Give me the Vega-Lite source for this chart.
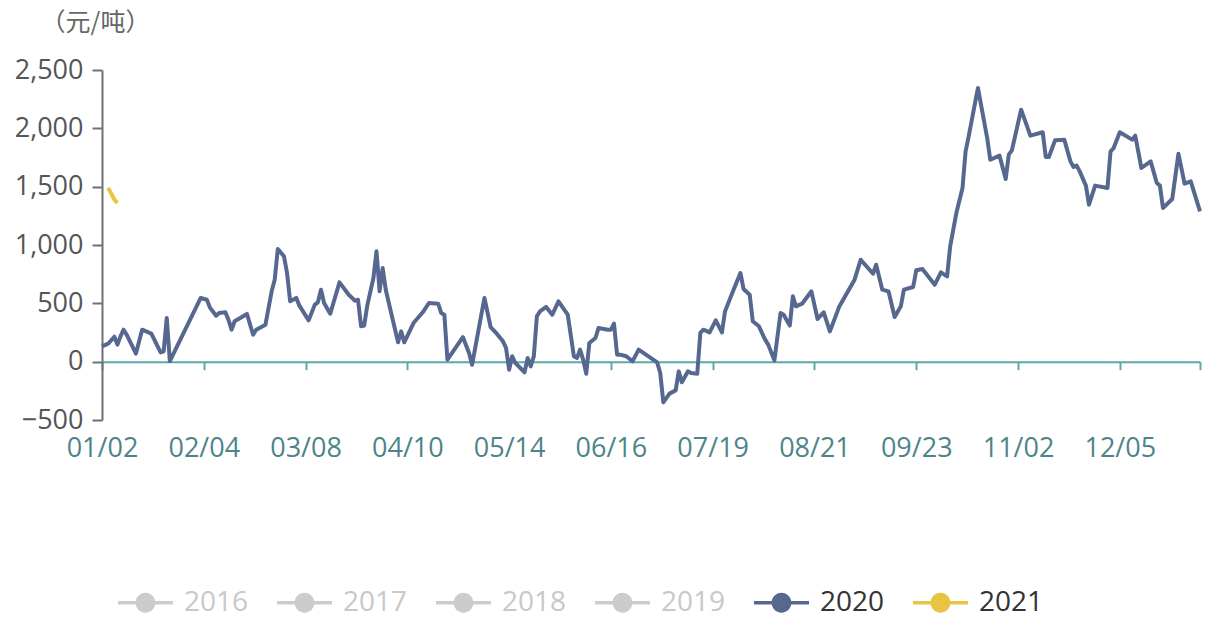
{
  "$schema": "https://vega.github.io/schema/vega-lite/v6.json",
  "width": 1098,
  "height": 350,
  "autosize": "none",
  "padding": {"left": 102, "top": 70, "right": 6, "bottom": 197},
  "background": "white",
  "config": {"view": {"stroke": null}, "font": "Open Sans"},
  "data": {"values": [
    {"date": "01/02", "year": "2020", "value": 131},
    {"date": "01/04", "year": "2020", "value": 154},
    {"date": "01/06", "year": "2020", "value": 214},
    {"date": "01/07", "year": "2020", "value": 146},
    {"date": "01/08", "year": "2020", "value": 217},
    {"date": "01/09", "year": "2020", "value": 274},
    {"date": "01/10", "year": "2020", "value": 231},
    {"date": "01/13", "year": "2020", "value": 69},
    {"date": "01/15", "year": "2020", "value": 274},
    {"date": "01/18", "year": "2020", "value": 240},
    {"date": "01/21", "year": "2020", "value": 80},
    {"date": "01/22", "year": "2020", "value": 89},
    {"date": "01/23", "year": "2020", "value": 374},
    {"date": "01/24", "year": "2020", "value": 5},
    {"date": "02/03", "year": "2020", "value": 546},
    {"date": "02/05", "year": "2020", "value": 531},
    {"date": "02/06", "year": "2020", "value": 463},
    {"date": "02/08", "year": "2020", "value": 394},
    {"date": "02/09", "year": "2020", "value": 417},
    {"date": "02/11", "year": "2020", "value": 423},
    {"date": "02/12", "year": "2020", "value": 360},
    {"date": "02/13", "year": "2020", "value": 274},
    {"date": "02/14", "year": "2020", "value": 346},
    {"date": "02/18", "year": "2020", "value": 409},
    {"date": "02/20", "year": "2020", "value": 231},
    {"date": "02/21", "year": "2020", "value": 274},
    {"date": "02/24", "year": "2020", "value": 317},
    {"date": "02/26", "year": "2020", "value": 603},
    {"date": "02/27", "year": "2020", "value": 703},
    {"date": "02/28", "year": "2020", "value": 966},
    {"date": "03/01", "year": "2020", "value": 903},
    {"date": "03/02", "year": "2020", "value": 760},
    {"date": "03/03", "year": "2020", "value": 517},
    {"date": "03/05", "year": "2020", "value": 546},
    {"date": "03/06", "year": "2020", "value": 480},
    {"date": "03/09", "year": "2020", "value": 354},
    {"date": "03/11", "year": "2020", "value": 489},
    {"date": "03/12", "year": "2020", "value": 509},
    {"date": "03/13", "year": "2020", "value": 617},
    {"date": "03/14", "year": "2020", "value": 503},
    {"date": "03/16", "year": "2020", "value": 411},
    {"date": "03/19", "year": "2020", "value": 680},
    {"date": "03/22", "year": "2020", "value": 574},
    {"date": "03/24", "year": "2020", "value": 523},
    {"date": "03/25", "year": "2020", "value": 531},
    {"date": "03/26", "year": "2020", "value": 303},
    {"date": "03/27", "year": "2020", "value": 309},
    {"date": "03/28", "year": "2020", "value": 480},
    {"date": "03/30", "year": "2020", "value": 717},
    {"date": "03/31", "year": "2020", "value": 946},
    {"date": "04/01", "year": "2020", "value": 603},
    {"date": "04/02", "year": "2020", "value": 803},
    {"date": "04/03", "year": "2020", "value": 617},
    {"date": "04/05", "year": "2020", "value": 389},
    {"date": "04/07", "year": "2020", "value": 166},
    {"date": "04/08", "year": "2020", "value": 260},
    {"date": "04/09", "year": "2020", "value": 166},
    {"date": "04/12", "year": "2020", "value": 331},
    {"date": "04/15", "year": "2020", "value": 423},
    {"date": "04/17", "year": "2020", "value": 503},
    {"date": "04/20", "year": "2020", "value": 497},
    {"date": "04/21", "year": "2020", "value": 417},
    {"date": "04/22", "year": "2020", "value": 403},
    {"date": "04/23", "year": "2020", "value": 17},
    {"date": "04/28", "year": "2020", "value": 211},
    {"date": "04/30", "year": "2020", "value": 74},
    {"date": "05/02", "year": "2020", "value": -26},
    {"date": "05/06", "year": "2020", "value": 546},
    {"date": "05/08", "year": "2020", "value": 297},
    {"date": "05/10", "year": "2020", "value": 240},
    {"date": "05/12", "year": "2020", "value": 174},
    {"date": "05/13", "year": "2020", "value": 117},
    {"date": "05/14", "year": "2020", "value": -69},
    {"date": "05/15", "year": "2020", "value": 46},
    {"date": "05/16", "year": "2020", "value": -11},
    {"date": "05/19", "year": "2020", "value": -91},
    {"date": "05/20", "year": "2020", "value": 31},
    {"date": "05/21", "year": "2020", "value": -40},
    {"date": "05/22", "year": "2020", "value": 46},
    {"date": "05/23", "year": "2020", "value": 389},
    {"date": "05/24", "year": "2020", "value": 431},
    {"date": "05/26", "year": "2020", "value": 469},
    {"date": "05/28", "year": "2020", "value": 403},
    {"date": "05/30", "year": "2020", "value": 517},
    {"date": "06/02", "year": "2020", "value": 403},
    {"date": "06/04", "year": "2020", "value": 46},
    {"date": "06/05", "year": "2020", "value": 31},
    {"date": "06/06", "year": "2020", "value": 103},
    {"date": "06/07", "year": "2020", "value": 17},
    {"date": "06/08", "year": "2020", "value": -103},
    {"date": "06/09", "year": "2020", "value": 160},
    {"date": "06/11", "year": "2020", "value": 203},
    {"date": "06/12", "year": "2020", "value": 289},
    {"date": "06/15", "year": "2020", "value": 274},
    {"date": "06/16", "year": "2020", "value": 274},
    {"date": "06/17", "year": "2020", "value": 326},
    {"date": "06/18", "year": "2020", "value": 60},
    {"date": "06/19", "year": "2020", "value": 60},
    {"date": "06/21", "year": "2020", "value": 46},
    {"date": "06/23", "year": "2020", "value": 3},
    {"date": "06/25", "year": "2020", "value": 103},
    {"date": "06/29", "year": "2020", "value": 31},
    {"date": "07/01", "year": "2020", "value": -6},
    {"date": "07/02", "year": "2020", "value": -97},
    {"date": "07/03", "year": "2020", "value": -349},
    {"date": "07/05", "year": "2020", "value": -274},
    {"date": "07/07", "year": "2020", "value": -246},
    {"date": "07/08", "year": "2020", "value": -83},
    {"date": "07/09", "year": "2020", "value": -177},
    {"date": "07/11", "year": "2020", "value": -83},
    {"date": "07/12", "year": "2020", "value": -97},
    {"date": "07/14", "year": "2020", "value": -103},
    {"date": "07/15", "year": "2020", "value": 246},
    {"date": "07/16", "year": "2020", "value": 274},
    {"date": "07/18", "year": "2020", "value": 251},
    {"date": "07/20", "year": "2020", "value": 354},
    {"date": "07/22", "year": "2020", "value": 251},
    {"date": "07/23", "year": "2020", "value": 431},
    {"date": "07/26", "year": "2020", "value": 631},
    {"date": "07/28", "year": "2020", "value": 760},
    {"date": "07/29", "year": "2020", "value": 623},
    {"date": "07/31", "year": "2020", "value": 574},
    {"date": "08/01", "year": "2020", "value": 346},
    {"date": "08/03", "year": "2020", "value": 303},
    {"date": "08/05", "year": "2020", "value": 189},
    {"date": "08/06", "year": "2020", "value": 146},
    {"date": "08/08", "year": "2020", "value": 11},
    {"date": "08/10", "year": "2020", "value": 417},
    {"date": "08/11", "year": "2020", "value": 403},
    {"date": "08/13", "year": "2020", "value": 309},
    {"date": "08/14", "year": "2020", "value": 560},
    {"date": "08/15", "year": "2020", "value": 474},
    {"date": "08/17", "year": "2020", "value": 497},
    {"date": "08/20", "year": "2020", "value": 603},
    {"date": "08/22", "year": "2020", "value": 366},
    {"date": "08/24", "year": "2020", "value": 423},
    {"date": "08/26", "year": "2020", "value": 260},
    {"date": "08/29", "year": "2020", "value": 470},
    {"date": "09/03", "year": "2020", "value": 703},
    {"date": "09/05", "year": "2020", "value": 874},
    {"date": "09/09", "year": "2020", "value": 754},
    {"date": "09/10", "year": "2020", "value": 831},
    {"date": "09/12", "year": "2020", "value": 617},
    {"date": "09/14", "year": "2020", "value": 603},
    {"date": "09/16", "year": "2020", "value": 383},
    {"date": "09/18", "year": "2020", "value": 474},
    {"date": "09/19", "year": "2020", "value": 617},
    {"date": "09/22", "year": "2020", "value": 640},
    {"date": "09/23", "year": "2020", "value": 783},
    {"date": "09/25", "year": "2020", "value": 794},
    {"date": "09/29", "year": "2020", "value": 660},
    {"date": "10/08", "year": "2020", "value": 766},
    {"date": "10/10", "year": "2020", "value": 731},
    {"date": "10/11", "year": "2020", "value": 988},
    {"date": "10/13", "year": "2020", "value": 1274},
    {"date": "10/15", "year": "2020", "value": 1489},
    {"date": "10/16", "year": "2020", "value": 1803},
    {"date": "10/17", "year": "2020", "value": 1931},
    {"date": "10/20", "year": "2020", "value": 2346},
    {"date": "10/22", "year": "2020", "value": 2060},
    {"date": "10/23", "year": "2020", "value": 1917},
    {"date": "10/24", "year": "2020", "value": 1731},
    {"date": "10/27", "year": "2020", "value": 1766},
    {"date": "10/29", "year": "2020", "value": 1566},
    {"date": "10/30", "year": "2020", "value": 1774},
    {"date": "10/31", "year": "2020", "value": 1811},
    {"date": "11/03", "year": "2020", "value": 2160},
    {"date": "11/06", "year": "2020", "value": 1937},
    {"date": "11/10", "year": "2020", "value": 1966},
    {"date": "11/11", "year": "2020", "value": 1754},
    {"date": "11/12", "year": "2020", "value": 1754},
    {"date": "11/14", "year": "2020", "value": 1897},
    {"date": "11/17", "year": "2020", "value": 1903},
    {"date": "11/19", "year": "2020", "value": 1717},
    {"date": "11/20", "year": "2020", "value": 1669},
    {"date": "11/21", "year": "2020", "value": 1680},
    {"date": "11/22", "year": "2020", "value": 1631},
    {"date": "11/24", "year": "2020", "value": 1509},
    {"date": "11/25", "year": "2020", "value": 1346},
    {"date": "11/27", "year": "2020", "value": 1509},
    {"date": "12/01", "year": "2020", "value": 1489},
    {"date": "12/02", "year": "2020", "value": 1803},
    {"date": "12/03", "year": "2020", "value": 1831},
    {"date": "12/05", "year": "2020", "value": 1966},
    {"date": "12/09", "year": "2020", "value": 1903},
    {"date": "12/10", "year": "2020", "value": 1937},
    {"date": "12/12", "year": "2020", "value": 1660},
    {"date": "12/15", "year": "2020", "value": 1717},
    {"date": "12/17", "year": "2020", "value": 1531},
    {"date": "12/18", "year": "2020", "value": 1509},
    {"date": "12/19", "year": "2020", "value": 1317},
    {"date": "12/22", "year": "2020", "value": 1394},
    {"date": "12/24", "year": "2020", "value": 1783},
    {"date": "12/26", "year": "2020", "value": 1526},
    {"date": "12/28", "year": "2020", "value": 1546},
    {"date": "12/31", "year": "2020", "value": 1288},
    {"date": "01/04", "year": "2021", "value": 1490},
    {"date": "01/05", "year": "2021", "value": 1440},
    {"date": "01/06", "year": "2021", "value": 1390},
    {"date": "01/07", "year": "2021", "value": 1360}
  ]},
  "encoding": {
    "y": {
      "field": "value",
      "type": "quantitative",
      "scale": {"domain": [-500, 2500], "nice": false, "zero": false},
      "axis": {
        "title": "（元/吨）",
        "titleAngle": 0,
        "titleAlign": "center",
        "titleBaseline": "middle",
        "titleX": -7,
        "titleY": -48,
        "titleFont": "Noto Sans CJK SC",
        "titleFontSize": 25,
        "titleFontWeight": "normal",
        "titleColor": "#666666",
        "values": [-500, 0, 500, 1000, 1500, 2000, 2500],
        "format": ",.0f",
        "labelFont": "Open Sans",
        "labelFontSize": 27,
        "labelColor": "#555555",
        "labelPadding": 9,
        "domainColor": "#6e7079",
        "domainWidth": 2,
        "tickColor": "#6e7079",
        "tickWidth": 2,
        "tickSize": 10,
        "grid": false
      }
    },
    "color": {
      "field": "year",
      "type": "nominal",
      "scale": {
        "domain": ["2016", "2017", "2018", "2019", "2020", "2021"],
        "range": ["#cccccc", "#cccccc", "#cccccc", "#cccccc", "#56688f", "#e8c440"]
      },
      "legend": {
        "orient": "none",
        "legendX": 16,
        "legendY": 505,
        "direction": "horizontal",
        "columns": 6,
        "title": null,
        "padding": 0,
        "symbolType": "M-1,-0.06H1V0.06H-1Z M0.36,0A0.36,0.36,0,1,1,-0.36,0A0.36,0.36,0,1,1,0.36,0Z",
        "symbolSize": 3025,
        "symbolStrokeWidth": 0,
        "labelFont": "Open Sans",
        "labelFontSize": 28,
        "labelOffset": 11,
        "labelLimit": 200,
        "columnPadding": 28,
        "encode": {
          "symbols": {"update": {"fill": {"scale": "color", "field": "value"}, "stroke": {"value": "transparent"}}},
          "labels": {"update": {"fill": {"signal": "datum.value >= '2020' ? '#333333' : '#c8c8c8'"}}}
        }
      }
    }
  },
  "layer": [
    {
      "transform": [{"filter": "datum.year == '2020'"}],
      "mark": {"type": "line", "strokeWidth": 4, "strokeJoin": "round"},
      "encoding": {
        "x": {
          "field": "date",
          "type": "ordinal",
          "scale": {"type": "point", "padding": 0, "domain": ["01/02","01/03","01/04","01/05","01/06","01/07","01/08","01/09","01/10","01/11","01/12","01/13","01/14","01/15","01/16","01/17","01/18","01/19","01/20","01/21","01/22","01/23","01/24","01/25","01/26","01/27","01/28","01/29","01/30","01/31","02/01","02/02","02/03","02/04","02/05","02/06","02/07","02/08","02/09","02/10","02/11","02/12","02/13","02/14","02/15","02/16","02/17","02/18","02/19","02/20","02/21","02/22","02/23","02/24","02/25","02/26","02/27","02/28","02/29","03/01","03/02","03/03","03/04","03/05","03/06","03/07","03/08","03/09","03/10","03/11","03/12","03/13","03/14","03/15","03/16","03/17","03/18","03/19","03/20","03/21","03/22","03/23","03/24","03/25","03/26","03/27","03/28","03/29","03/30","03/31","04/01","04/02","04/03","04/04","04/05","04/06","04/07","04/08","04/09","04/10","04/11","04/12","04/13","04/14","04/15","04/16","04/17","04/18","04/19","04/20","04/21","04/22","04/23","04/24","04/25","04/26","04/27","04/28","04/29","04/30","05/02","05/03","05/04","05/05","05/06","05/07","05/08","05/09","05/10","05/11","05/12","05/13","05/14","05/15","05/16","05/17","05/18","05/19","05/20","05/21","05/22","05/23","05/24","05/25","05/26","05/27","05/28","05/29","05/30","05/31","06/01","06/02","06/03","06/04","06/05","06/06","06/07","06/08","06/09","06/10","06/11","06/12","06/13","06/14","06/15","06/16","06/17","06/18","06/19","06/20","06/21","06/22","06/23","06/24","06/25","06/26","06/27","06/28","06/29","06/30","07/01","07/02","07/03","07/04","07/05","07/06","07/07","07/08","07/09","07/10","07/11","07/12","07/13","07/14","07/15","07/16","07/17","07/18","07/19","07/20","07/21","07/22","07/23","07/24","07/25","07/26","07/27","07/28","07/29","07/30","07/31","08/01","08/02","08/03","08/04","08/05","08/06","08/07","08/08","08/09","08/10","08/11","08/12","08/13","08/14","08/15","08/16","08/17","08/18","08/19","08/20","08/21","08/22","08/23","08/24","08/25","08/26","08/27","08/28","08/29","08/30","08/31","09/01","09/02","09/03","09/04","09/05","09/06","09/07","09/08","09/09","09/10","09/11","09/12","09/13","09/14","09/15","09/16","09/17","09/18","09/19","09/20","09/21","09/22","09/23","09/24","09/25","09/26","09/27","09/28","09/29","09/30","10/08","10/09","10/10","10/11","10/12","10/13","10/14","10/15","10/16","10/17","10/18","10/19","10/20","10/21","10/22","10/23","10/24","10/25","10/26","10/27","10/28","10/29","10/30","10/31","11/01","11/02","11/03","11/04","11/05","11/06","11/07","11/08","11/09","11/10","11/11","11/12","11/13","11/14","11/15","11/16","11/17","11/18","11/19","11/20","11/21","11/22","11/23","11/24","11/25","11/26","11/27","11/28","11/29","11/30","12/01","12/02","12/03","12/04","12/05","12/06","12/07","12/08","12/09","12/10","12/11","12/12","12/13","12/14","12/15","12/16","12/17","12/18","12/19","12/20","12/21","12/22","12/23","12/24","12/25","12/26","12/27","12/28","12/29","12/30","12/31"]},
          "axis": {
            "title": null,
            "orient": "bottom",
            "values": ["01/02","02/04","03/08","04/10","05/14","06/16","07/19","08/21","09/23","11/02","12/05"],
            "domain": false,
            "ticks": false,
            "grid": false,
            "labelAngle": 0,
            "labelOverlap": false,
            "labelPadding": 15,
            "labelFont": "Open Sans",
            "labelFontSize": 27,
            "labelColor": "#4d8489"
          }
        }
      }
    },
    {
      "transform": [{"filter": "datum.year == '2021'"}],
      "mark": {"type": "line", "strokeWidth": 4, "strokeJoin": "round"},
      "encoding": {
        "x": {
          "field": "date",
          "type": "ordinal",
          "scale": {"type": "point", "padding": 0, "domain": ["01/02","01/03","01/04","01/05","01/06","01/07","01/08","01/09","01/10","01/11","01/12","01/13","01/14","01/15","01/16","01/17","01/18","01/19","01/20","01/21","01/22","01/23","01/24","01/25","01/26","01/27","01/28","01/29","01/30","01/31","02/01","02/02","02/03","02/04","02/05","02/06","02/07","02/08","02/09","02/10","02/11","02/12","02/13","02/14","02/15","02/16","02/17","02/18","02/19","02/20","02/21","02/22","02/23","02/24","02/25","02/26","02/27","02/28","02/29","03/01","03/02","03/03","03/04","03/05","03/06","03/07","03/08","03/09","03/10","03/11","03/12","03/13","03/14","03/15","03/16","03/17","03/18","03/19","03/20","03/21","03/22","03/23","03/24","03/25","03/26","03/27","03/28","03/29","03/30","03/31","04/01","04/02","04/03","04/04","04/05","04/06","04/07","04/08","04/09","04/10","04/11","04/12","04/13","04/14","04/15","04/16","04/17","04/18","04/19","04/20","04/21","04/22","04/23","04/24","04/25","04/26","04/27","04/28","04/29","04/30","05/02","05/03","05/04","05/05","05/06","05/07","05/08","05/09","05/10","05/11","05/12","05/13","05/14","05/15","05/16","05/17","05/18","05/19","05/20","05/21","05/22","05/23","05/24","05/25","05/26","05/27","05/28","05/29","05/30","05/31","06/01","06/02","06/03","06/04","06/05","06/06","06/07","06/08","06/09","06/10","06/11","06/12","06/13","06/14","06/15","06/16","06/17","06/18","06/19","06/20","06/21","06/22","06/23","06/24","06/25","06/26","06/27","06/28","06/29","06/30","07/01","07/02","07/03","07/04","07/05","07/06","07/07","07/08","07/09","07/10","07/11","07/12","07/13","07/14","07/15","07/16","07/17","07/18","07/19","07/20","07/21","07/22","07/23","07/24","07/25","07/26","07/27","07/28","07/29","07/30","07/31","08/01","08/02","08/03","08/04","08/05","08/06","08/07","08/08","08/09","08/10","08/11","08/12","08/13","08/14","08/15","08/16","08/17","08/18","08/19","08/20","08/21","08/22","08/23","08/24","08/25","08/26","08/27","08/28","08/29","08/30","08/31","09/01","09/02","09/03","09/04","09/05","09/06","09/07","09/08","09/09","09/10","09/11","09/12","09/13","09/14","09/15","09/16","09/17","09/18","09/19","09/20","09/21","09/22","09/23","09/24","09/25","09/26","09/27","09/28","09/29","09/30","10/08","10/09","10/10","10/11","10/12","10/13","10/14","10/15","10/16","10/17","10/18","10/19","10/20","10/21","10/22","10/23","10/24","10/25","10/26","10/27","10/28","10/29","10/30","10/31","11/01","11/02","11/03","11/04","11/05","11/06","11/07","11/08","11/09","11/10","11/11","11/12","11/13","11/14","11/15","11/16","11/17","11/18","11/19","11/20","11/21","11/22","11/23","11/24","11/25","11/26","11/27","11/28","11/29","11/30","12/01","12/02","12/03","12/04","12/05","12/06","12/07","12/08","12/09","12/10","12/11","12/12","12/13","12/14","12/15","12/16","12/17","12/18","12/19","12/20","12/21","12/22","12/23","12/24","12/25","12/26","12/27","12/28","12/29","12/30","12/31"]},
          "axis": {
            "title": null,
            "orient": "bottom",
            "values": ["01/02","02/04","03/08","04/10","05/14","06/16","07/19","08/21","09/23","11/02","12/05","12/31"],
            "labels": false,
            "grid": false,
            "offset": -58.33,
            "domainColor": "#5aa9ab",
            "domainWidth": 2,
            "tickColor": "#5aa9ab",
            "tickWidth": 2,
            "tickSize": 8
          }
        }
      }
    }
  ],
  "resolve": {"axis": {"x": "independent"}}
}
